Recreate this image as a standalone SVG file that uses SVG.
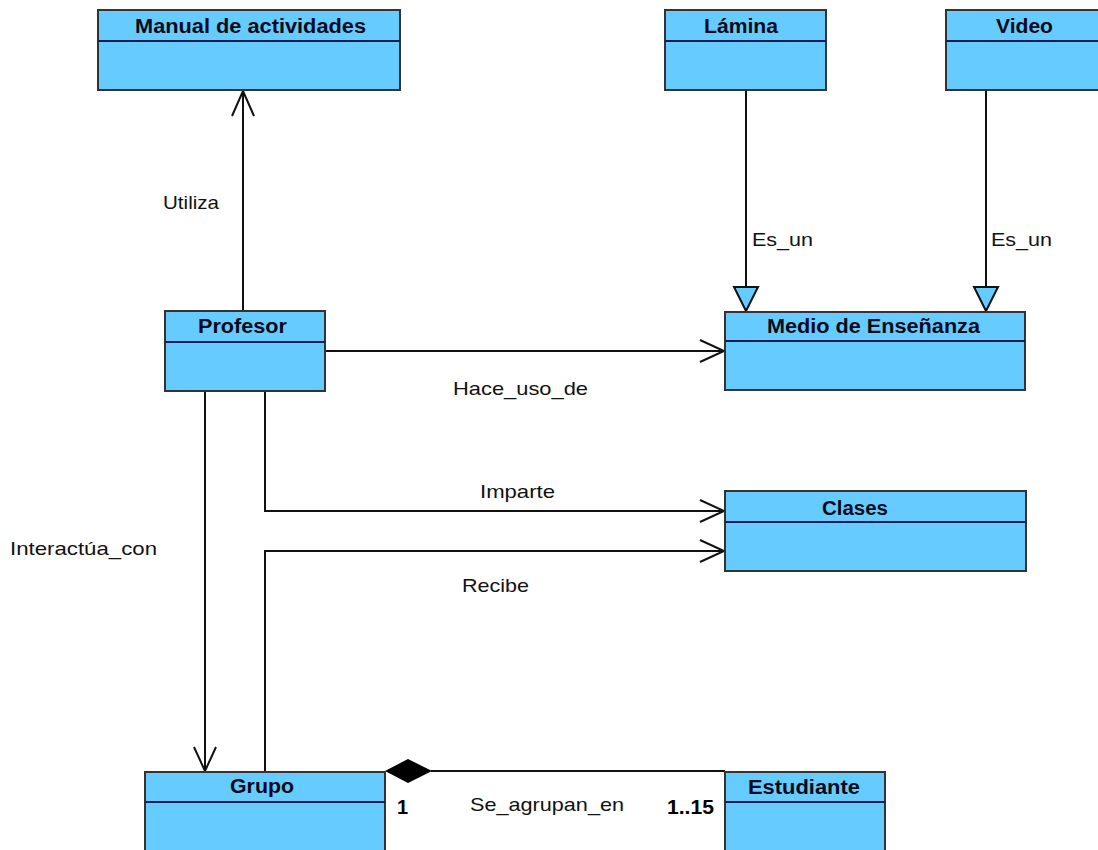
<svg xmlns="http://www.w3.org/2000/svg" width="1098" height="850" viewBox="0 0 1098 850">
  <style>
    .box { fill: #66CCFF; stroke: #333333; stroke-width: 2; }
    .div { stroke: #1a1a50; stroke-width: 2; }
    .name { font-family: "Liberation Sans", Arial, sans-serif; font-weight: bold; font-size: 20px; fill: #0a0a1a; text-anchor: start; }
    .lbl { font-family: "Liberation Sans", Arial, sans-serif; font-size: 19px; fill: #111111; }
    .mult { font-family: "Liberation Sans", Arial, sans-serif; font-weight: bold; font-size: 20px; fill: #000000; }
    .edge { fill: none; stroke: #111111; stroke-width: 2; }
    .gen { fill: #66CCFF; stroke: #111111; stroke-width: 2; }
  </style>
  <rect width="1098" height="850" fill="#ffffff"/>

  <!-- connectors -->
  <g id="connectors">
    <!-- Profesor uses Manual de actividades -->
    <path class="edge" d="M243 311 V91"/>
    <path class="edge" d="M232 116 L243 91 L254 116"/>
    <text class="lbl" x="163" y="209" textLength="56" lengthAdjust="spacingAndGlyphs">Utiliza</text>

    <!-- Lámina is a Medio de Enseñanza -->
    <path class="edge" d="M746 90 V287"/>
    <polygon class="gen" points="734,287 758,287 746,311"/>
    <text class="lbl" x="752" y="246" textLength="61" lengthAdjust="spacingAndGlyphs">Es_un</text>

    <!-- Video is a Medio de Enseñanza -->
    <path class="edge" d="M986 90 V287"/>
    <polygon class="gen" points="974,287 998,287 986,311"/>
    <text class="lbl" x="991" y="246" textLength="61" lengthAdjust="spacingAndGlyphs">Es_un</text>

    <!-- Profesor makes use of Medio de Enseñanza -->
    <path class="edge" d="M325 351 H724"/>
    <path class="edge" d="M700 340 L724 351 L700 362"/>
    <text class="lbl" x="453" y="395" textLength="135" lengthAdjust="spacingAndGlyphs">Hace_uso_de</text>

    <!-- Profesor teaches Clases -->
    <path class="edge" d="M265 391 V511 H724"/>
    <path class="edge" d="M700 500 L724 511 L700 522"/>
    <text class="lbl" x="480" y="498" textLength="75" lengthAdjust="spacingAndGlyphs">Imparte</text>

    <!-- Grupo receives Clases -->
    <path class="edge" d="M265 772 V551 H724"/>
    <path class="edge" d="M700 540 L724 551 L700 562"/>
    <text class="lbl" x="462" y="592" textLength="67" lengthAdjust="spacingAndGlyphs">Recibe</text>

    <!-- Profesor interacts with Grupo -->
    <path class="edge" d="M205 391 V771"/>
    <path class="edge" d="M194 747 L205 771 L216 747"/>
    <text class="lbl" x="10" y="555" textLength="147" lengthAdjust="spacingAndGlyphs">Interactúa_con</text>

    <!-- Estudiante composed into Grupo -->
    <path class="edge" d="M431 771 H725"/>
    <polygon points="385,771 408,759 432,771 408,783" fill="#000000"/>
    <text class="mult" x="397" y="814">1</text>
    <text class="lbl" x="470" y="811" textLength="154" lengthAdjust="spacingAndGlyphs">Se_agrupan_en</text>
    <text class="mult" x="667" y="814" textLength="47" lengthAdjust="spacingAndGlyphs">1..15</text>
  </g>

  <!-- classes -->
  <g id="manual">
    <rect class="box" x="98" y="10" width="302" height="80"/>
    <line class="div" x1="98" y1="41" x2="400" y2="41"/>
    <text class="name" x="135" y="33" textLength="231" lengthAdjust="spacingAndGlyphs">Manual de actividades</text>
  </g>

  <g id="lamina">
    <rect class="box" x="665" y="10" width="161" height="80"/>
    <line class="div" x1="665" y1="41" x2="826" y2="41"/>
    <text class="name" x="704" y="33" textLength="74" lengthAdjust="spacingAndGlyphs">Lámina</text>
  </g>

  <g id="video">
    <rect class="box" x="946" y="10" width="161" height="80"/>
    <line class="div" x1="946" y1="41" x2="1107" y2="41"/>
    <text class="name" x="996" y="33" textLength="57" lengthAdjust="spacingAndGlyphs">Video</text>
  </g>

  <g id="profesor">
    <rect class="box" x="165" y="311" width="160" height="80"/>
    <line class="div" x1="165" y1="342" x2="325" y2="342"/>
    <text class="name" x="198" y="333" textLength="89" lengthAdjust="spacingAndGlyphs">Profesor</text>
  </g>

  <g id="medio">
    <rect class="box" x="725" y="312" width="300" height="78"/>
    <line class="div" x1="725" y1="341" x2="1025" y2="341"/>
    <text class="name" x="767" y="333" textLength="213" lengthAdjust="spacingAndGlyphs">Medio de Enseñanza</text>
  </g>

  <g id="clases">
    <rect class="box" x="725" y="491" width="301" height="80"/>
    <line class="div" x1="725" y1="522" x2="1026" y2="522"/>
    <text class="name" x="822" y="515" textLength="66" lengthAdjust="spacingAndGlyphs">Clases</text>
  </g>

  <g id="grupo">
    <rect class="box" x="145" y="772" width="240" height="90"/>
    <line class="div" x1="145" y1="802" x2="385" y2="802"/>
    <text class="name" x="230" y="793" textLength="64" lengthAdjust="spacingAndGlyphs">Grupo</text>
  </g>

  <g id="estudiante">
    <rect class="box" x="725" y="772" width="160" height="90"/>
    <line class="div" x1="725" y1="802" x2="885" y2="802"/>
    <text class="name" x="748" y="794" textLength="112" lengthAdjust="spacingAndGlyphs">Estudiante</text>
  </g>
</svg>
